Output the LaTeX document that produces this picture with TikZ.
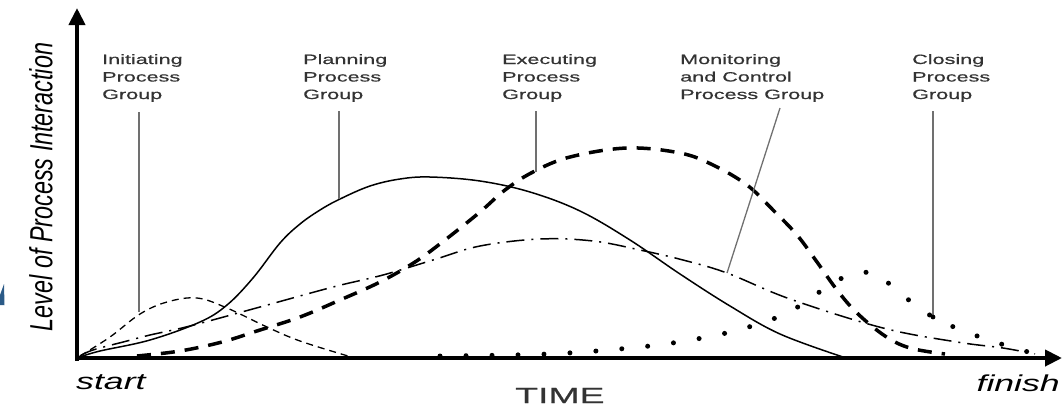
\documentclass[tikz,border=0pt]{standalone}
\usepackage{fontspec}
\setmainfont{Liberation Sans}
\newfontfamily\lblfont[FakeStretch=1.6,FakeBold=0.6]{Liberation Sans}
\newfontfamily\endfont[FakeStretch=1.55]{Liberation Sans}
\newfontfamily\timefont[FakeStretch=1.7,FakeBold=0.5]{Liberation Sans}
\newfontfamily\ylfont[FakeStretch=0.73]{Liberation Sans}
\usetikzlibrary{arrows.meta}
\definecolor{lbl}{HTML}{333333}
\definecolor{ldr}{HTML}{707070}
\definecolor{bluemark}{HTML}{2B5A87}
\begin{document}
\begin{tikzpicture}[x=1pt,y=-1pt,
  lbltext/.style={font=\lblfont\fontsize{13.5}{17.5}\selectfont, text=lbl, align=left, anchor=base west, inner sep=0pt},
  leader/.style={draw=ldr, line width=1.3pt},
  axisline/.style={line width=4pt, -{Triangle[length=17pt,width=16pt]}},
  initcurve/.style={line width=1.3pt, dash pattern=on 7pt off 5pt},
  plancurve/.style={line width=1.5pt},
  execcurve/.style={line width=3.5pt, dash pattern=on 14pt off 10pt},
  moncurve/.style={line width=1.5pt, dash pattern=on 18pt off 7pt on 2pt off 7pt},
  closecurve/.style={line width=5pt, line cap=round, dash pattern=on 0pt off 26pt},
  endtext/.style={font=\endfont\itshape\fontsize{23}{23}\selectfont, inner sep=0pt}
]
\useasboundingbox (0,0) rectangle (1064,408);
\fill[bluemark] (0,295) -- (4,284) -- (4.5,305) -- (0,305) -- cycle;

% axes
\coordinate (o) at (77,358);
\coordinate (ytip) at (77,8);
\coordinate (xtip) at (1062,358);
\draw[axisline] (77,360.5) -- (ytip);
\draw[axisline] (75,358) -- (xtip);

% axis texts
\node[rotate=90, font=\ylfont\itshape\fontsize{32}{32}\selectfont] (ylab) at (41,187) {Level of Process Interaction};
\node[endtext, anchor=base west] (start) at (76,389) {start};
\node[endtext, anchor=base east] (finish) at (1060,391) {finish};
\node[font=\timefont\fontsize{22}{22}\selectfont, text=lbl, inner sep=0pt, anchor=base west] (time) at (515,403) {TIME};

% curves
\draw[initcurve] plot[smooth, tension=0.6] coordinates {(80,356) (110,337) (140,314) (167,302) (197,298) (227,308) (267,327) (300,341) (348,356)};
\draw[plancurve] plot[smooth, tension=0.6] coordinates {(80,357) (100,351) (150,340) (200,322) (227,305) (253,278) (280,243) (300,224) (320,210) (340,199) (370,186) (400,179) (430,177) (480,181) (530,192) (580,211) (630,240) (680,274) (730,306) (780,334) (843,357)};
\draw[execcurve] plot[smooth, tension=0.6] coordinates {(137,356) (180,351) (222,342) (260,330) (300,317) (340,300) (380,282) (415,262) (445,240) (480,212) (505,190) (533,172) (570,157) (627,148) (680,153) (713,165) (747,185) (773,210) (797,235) (817,262) (837,290) (857,313) (885,336) (910,348) (945,354)};
\draw[moncurve] plot[smooth, tension=0.6] coordinates {(80,356) (93,350) (127,341) (150,335) (190,326) (260,307) (333,287) (383,275) (433,260) (480,246) (540,239) (593,241) (640,250) (683,260) (727,273) (790,299) (883,328) (957,342) (1003,348) (1035,354)};
\draw[closecurve] plot[smooth, tension=0.6] coordinates {(440,356) (548,354) (630,348) (685,341) (738,330) (787,313) (827,287) (852,274) (877,274) (895,289) (933,317) (980,337) (1032,353) (1050,356)};

% labels
\node[lbltext] (lInit) at (102,99) {Initiating\\Process\\Group};
\node[lbltext] (lPlan) at (303,99) {Planning\\Process\\Group};
\node[lbltext] (lExec) at (502,99) {Executing\\Process\\Group};
\node[lbltext] (lMon) at (680,99) {Monitoring\\and Control\\Process Group};
\node[lbltext] (lClose) at (912,99) {Closing\\Process\\Group};

% leaders
\coordinate (iTop) at (139,112); \coordinate (iBot) at (139,312);
\coordinate (pTop) at (339,111); \coordinate (pBot) at (339,199);
\coordinate (eTop) at (536,111); \coordinate (eBot) at (536,172);
\coordinate (mTop) at (780,108); \coordinate (mBot) at (727,273);
\coordinate (cTop) at (933,111); \coordinate (cBot) at (933,317);
\draw[leader] (iTop) -- (iBot);
\draw[leader] (pTop) -- (pBot);
\draw[leader] (eTop) -- (eBot);
\draw[leader] (mTop) -- (mBot);
\draw[leader] (cTop) -- (cBot);
\fill (cBot) circle (2.4);
\end{tikzpicture}
\end{document}
